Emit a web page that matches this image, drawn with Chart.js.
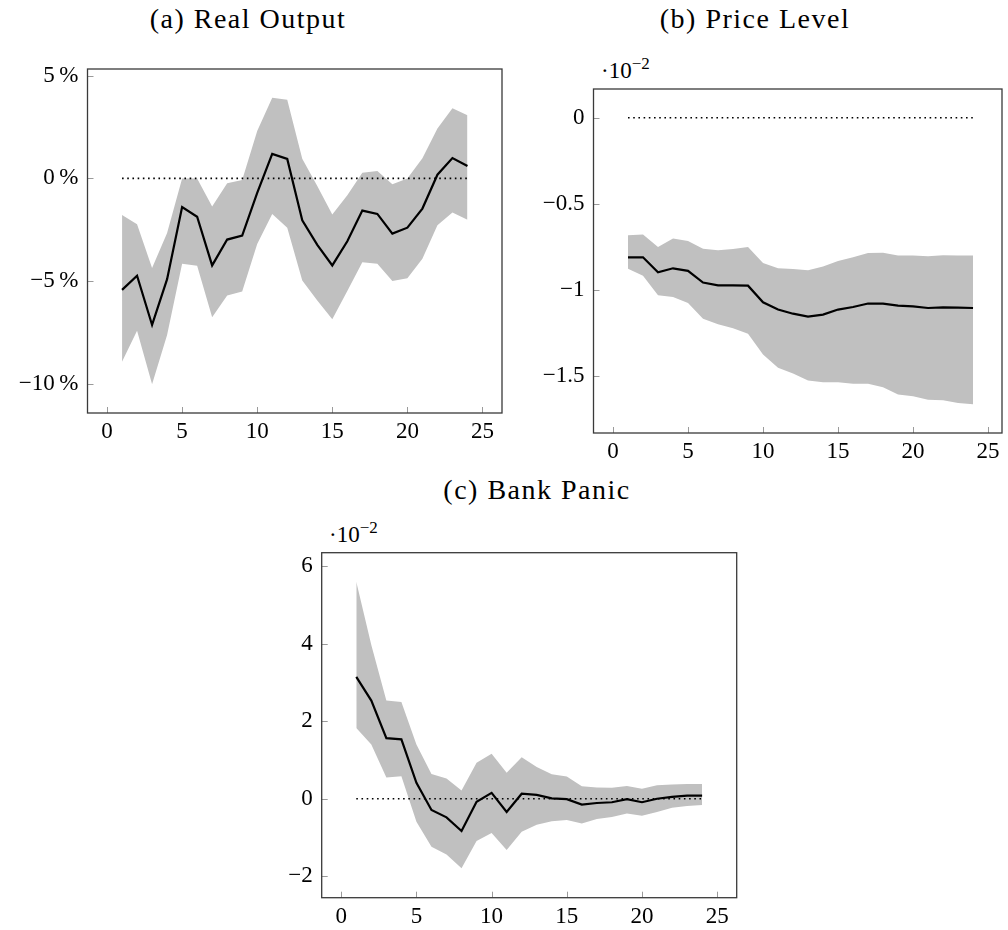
<!DOCTYPE html>
<html>
<head>
<meta charset="utf-8">
<script src="https://cdn.jsdelivr.net/npm/chart.js@4.4.1/dist/chart.umd.min.js"></script>
<style>
  body { margin: 0; background: #fff; width: 1008px; height: 930px; position: relative; overflow: hidden; }
  .box { position: absolute; }
  .ttl { position: absolute; font-family: 'Liberation Serif', serif; font-size: 28px; letter-spacing: 1.5px; color: #000; white-space: nowrap; transform: translateX(-50%); }
  .mult { position: absolute; font-family: 'Liberation Serif', serif; font-size: 23px; color: #000; white-space: nowrap; }
  .mult sup { font-size: 17px; position: relative; top: -4px; vertical-align: top; }
</style>
</head>
<body>
<div class="ttl" style="left:248px; top:3px">(a) Real Output</div>
<div class="ttl" style="left:755px; top:3px">(b) Price Level</div>
<div class="ttl" style="left:537px; top:474px">(c) Bank Panic</div>
<div class="mult" style="left:601px; top:58px">·10<sup>−2</sup></div>
<div class="mult" style="left:329px; top:522px">·10<sup>−2</sup></div>

<div class="box" style="left:0px; top:40px; width:510px; height:440px"><canvas id="outputChart"></canvas></div>
<div class="box" style="left:510px; top:40px; width:498px; height:440px"><canvas id="priceChart"></canvas></div>
<div class="box" style="left:240px; top:510px; width:510px; height:420px"><canvas id="panicChart"></canvas></div>

<script>
const horizon = [1, 2, 3, 4, 5, 6, 7, 8, 9, 10, 11, 12, 13, 14, 15, 16, 17, 18, 19, 20, 21, 22, 23, 24]
const xTicks = [0, 5, 10, 15, 20, 25]
const zeroX = [1, 24]
const zeroY = [0, 0]

// (a) real output, percent
const outputMean = [-5.43, -4.74, -7.14, -4.91, -1.40, -1.87, -4.24, -2.98, -2.79, -0.70, 1.19, 0.95, -2.04, -3.24, -4.24, -3.06, -1.57, -1.73, -2.69, -2.40, -1.47, 0.18, 0.99, 0.60]
const outputUpper = [-1.78, -2.23, -4.37, -2.66, 0.00, 0.00, -1.37, -0.24, -0.08, 2.31, 3.93, 3.83, 0.96, -0.37, -1.76, -0.82, 0.28, 0.36, -0.28, 0.00, 0.98, 2.43, 3.42, 3.08]
const outputLower = [-8.93, -7.42, -10.03, -7.63, -4.16, -4.26, -6.77, -5.71, -5.51, -3.20, -1.74, -2.41, -4.97, -5.95, -6.86, -5.48, -4.08, -4.16, -5.00, -4.86, -3.91, -2.28, -1.66, -2.01]
const outputTicks = [-10, -5, 0, 5]

// (b) price level, x 10^-2
const priceMean = [-0.812, -0.812, -0.899, -0.876, -0.891, -0.959, -0.975, -0.975, -0.977, -1.074, -1.116, -1.140, -1.157, -1.145, -1.116, -1.101, -1.081, -1.081, -1.093, -1.097, -1.107, -1.103, -1.105, -1.107]
const priceUpper = [-0.684, -0.680, -0.752, -0.703, -0.717, -0.762, -0.771, -0.764, -0.752, -0.845, -0.876, -0.880, -0.888, -0.866, -0.833, -0.812, -0.787, -0.785, -0.802, -0.802, -0.806, -0.800, -0.802, -0.802]
const priceLower = [-0.878, -0.919, -1.033, -1.043, -1.078, -1.169, -1.202, -1.225, -1.256, -1.378, -1.455, -1.488, -1.529, -1.539, -1.539, -1.547, -1.548, -1.568, -1.610, -1.620, -1.641, -1.643, -1.659, -1.667]
const priceTicks = [-1.5, -1, -0.5, 0]

// (c) bank panic, x 10^-2
const panicMean = [3.14, 2.53, 1.56, 1.53, 0.41, -0.29, -0.48, -0.83, -0.08, 0.15, -0.34, 0.13, 0.10, 0.01, -0.01, -0.15, -0.11, -0.09, -0.01, -0.09, 0.00, 0.05, 0.08, 0.08]
const panicUpper = [5.59, 3.96, 2.53, 2.49, 1.40, 0.64, 0.52, 0.21, 0.93, 1.16, 0.67, 1.07, 0.82, 0.63, 0.57, 0.32, 0.29, 0.28, 0.33, 0.26, 0.35, 0.37, 0.38, 0.38]
const panicLower = [1.82, 1.40, 0.55, 0.58, -0.59, -1.24, -1.44, -1.79, -1.09, -0.88, -1.32, -0.85, -0.67, -0.58, -0.55, -0.64, -0.52, -0.47, -0.38, -0.44, -0.34, -0.23, -0.19, -0.16]
const panicTicks = [-2, 0, 2, 4, 6]

Chart.defaults.font.family = "'Liberation Serif', serif"
Chart.defaults.font.size = 23
Chart.defaults.color = '#000'

function pts(xs, ys) {
    return xs.map((x, i) => ({ x: x, y: ys[i] }))
}

function fmtMinus(v) {
    return String(v).replace('-', '\u2212')
}

// pgfplots-like box: full frame plus short inward ticks on left and bottom
const framePlugin = {
    id: 'frame',
    afterDraw(chart) {
        const ctx = chart.ctx
        const a = chart.chartArea
        const sx = chart.scales.x
        const sy = chart.scales.y
        ctx.save()
        ctx.strokeStyle = '#9a9a9a'
        ctx.lineWidth = 1
        ctx.beginPath()
        sx.ticks.forEach(t => {
            const px = Math.round(sx.getPixelForValue(t.value)) + 0.5
            ctx.moveTo(px, a.bottom)
            ctx.lineTo(px, a.bottom - 6)
        })
        sy.ticks.forEach(t => {
            const py = Math.round(sy.getPixelForValue(t.value)) + 0.5
            ctx.moveTo(a.left, py)
            ctx.lineTo(a.left + 6, py)
        })
        ctx.stroke()
        ctx.strokeStyle = '#3a3a3a'
        ctx.lineWidth = 1.3
        ctx.strokeRect(a.left, a.top, a.right - a.left, a.bottom - a.top)
        ctx.restore()
    }
}

function makeChart(id, mean, upper, lower, yMin, yMax, yTicks, yFmt, area, xMax) {
    const canvas = document.getElementById(id)
    const w = canvas.parentNode.clientWidth
    const h = canvas.parentNode.clientHeight
    return new Chart(canvas, {
        type: 'line',
        data: {
            datasets: [
                {
                    data: pts(horizon, mean),
                    borderColor: '#000',
                    borderWidth: 2.2,
                    pointRadius: 0,
                    fill: false,
                    tension: 0,
                    order: 0
                },
                {
                    data: pts(zeroX, zeroY),
                    borderColor: '#000',
                    borderWidth: 1.6,
                    borderDash: [1.6, 3.6],
                    pointRadius: 0,
                    fill: false,
                    order: 1
                },
                {
                    data: pts(horizon, upper),
                    borderWidth: 0,
                    borderColor: 'rgba(0,0,0,0)',
                    backgroundColor: '#c0c0c0',
                    pointRadius: 0,
                    fill: 3,
                    order: 2
                },
                {
                    data: pts(horizon, lower),
                    borderWidth: 0,
                    borderColor: 'rgba(0,0,0,0)',
                    pointRadius: 0,
                    fill: false,
                    order: 3
                }
            ]
        },
        options: {
            responsive: true,
            maintainAspectRatio: false,
            animation: false,
            events: [],
            layout: {
                padding: { left: 0, top: area.top, right: w - area.right, bottom: 0 }
            },
            plugins: {
                legend: { display: false },
                tooltip: { enabled: false }
            },
            scales: {
                x: {
                    type: 'linear',
                    min: -1.3,
                    max: xMax,
                    grid: { display: false, drawTicks: false, tickLength: 0 },
                    border: { display: false },
                    ticks: { padding: 5, maxRotation: 0 },
                    afterBuildTicks: s => { s.ticks = xTicks.map(v => ({ value: v })) },
                    afterFit: s => { s.height = h - area.bottom }
                },
                y: {
                    type: 'linear',
                    min: yMin,
                    max: yMax,
                    grid: { display: false, drawTicks: false, tickLength: 0 },
                    border: { display: false },
                    ticks: { padding: 9, callback: yFmt },
                    afterBuildTicks: s => { s.ticks = yTicks.map(v => ({ value: v })) },
                    afterFit: s => { s.width = area.left }
                }
            }
        },
        plugins: [framePlugin]
    })
}

makeChart('outputChart', outputMean, outputUpper, outputLower, -11.43, 5.33, outputTicks,
    v => fmtMinus(v) + '\u2009%', { left: 87.5, right: 502, top: 29, bottom: 373 }, 26.3)
makeChart('priceChart', priceMean, priceUpper, priceLower, -1.834, 0.167, priceTicks,
    v => fmtMinus(v), { left: 83.5, right: 492, top: 49, bottom: 393 }, 25.93)
makeChart('panicChart', panicMean, panicUpper, panicLower, -2.55, 6.34, panicTicks,
    v => fmtMinus(v), { left: 81.7, right: 496.7, top: 42.7, bottom: 387.7 }, 26.3)
</script>
</body>
</html>
